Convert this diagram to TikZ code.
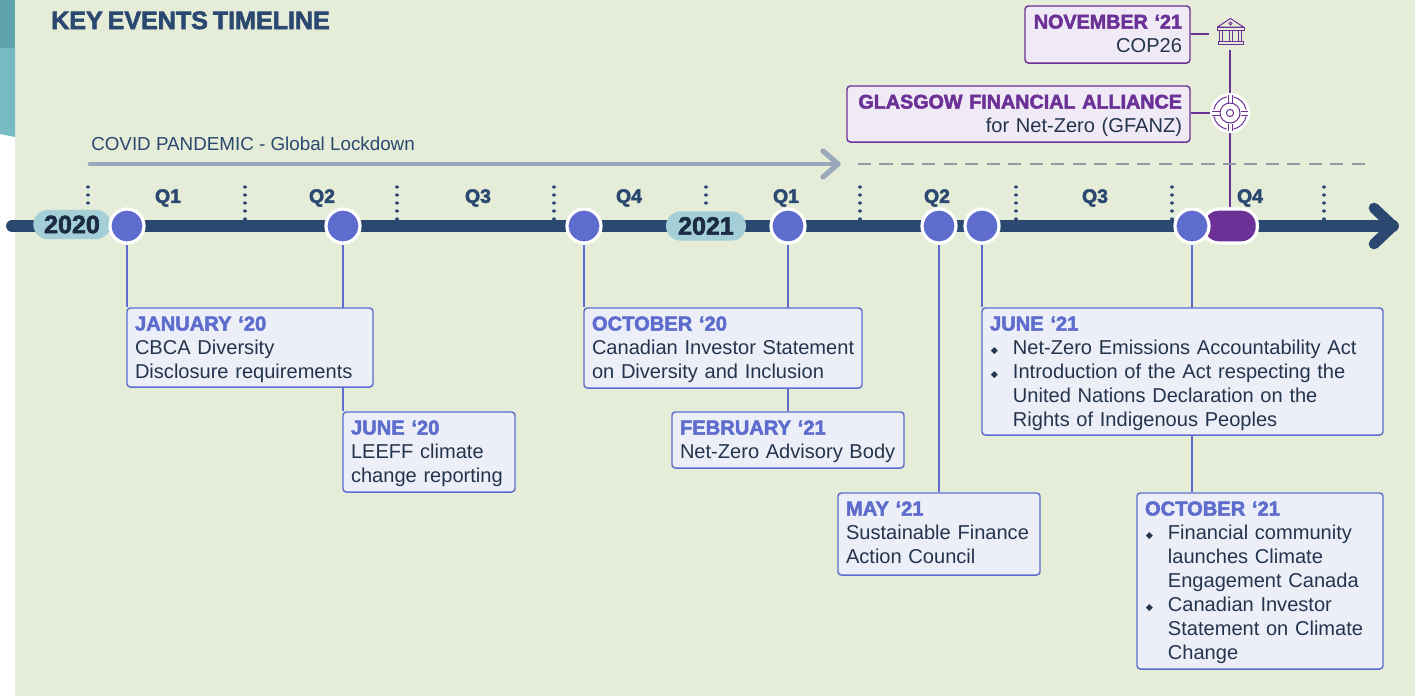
\documentclass[tikz,border=0pt]{standalone}
\usepackage{fontspec}
\setmainfont{Liberation Sans}
\newfontfamily\heavyfont[FakeBold=2.4,WordSpace=0.7]{Liberation Sans Bold}
\newfontfamily\symfont{DejaVu Sans}
\definecolor{navy}{HTML}{2B4870}
\definecolor{peri}{HTML}{5E6DCD}
\definecolor{purp}{HTML}{6B3196}
\definecolor{bgg}{HTML}{E5ECD8}
\definecolor{boxb}{HTML}{ECEFF8}
\definecolor{boxp}{HTML}{EFEAF5}
\definecolor{pill}{HTML}{A5CFD6}
\definecolor{bodyt}{HTML}{24344D}
\definecolor{yeart}{HTML}{1B2A45}
\definecolor{covid}{HTML}{9AA8BB}
\definecolor{dashc}{HTML}{8F9AA3}
\definecolor{tealA}{HTML}{5FA3AD}
\definecolor{tealB}{HTML}{78BAC4}
\pgfdeclarelayer{pagebg}
\pgfdeclarelayer{links}
\pgfsetlayers{pagebg,links,main}
\newcommand\hb[1]{\mbox{\fontsize{15.1}{18}\heavyfont\textcolor{peri}{#1}}}
\newcommand\hp[1]{\makebox[\linewidth][r]{\fontsize{14.8}{18}\heavyfont\textcolor{purp}{#1}}}
\newcommand\blt{\makebox[17.2pt][l]{\hspace{0.6pt}\fontsize{7}{7}\symfont\raisebox{1pt}{◆}}}
\newcommand\ind{\hspace*{17.2pt}}
\tikzset{
 evbox/.style={draw=peri,fill=boxb,line width=1.1pt,rounded corners=2.5pt,inner xsep=6pt,inner ysep=0pt,
   font=\fontsize{15.05}{18}\selectfont,text=bodyt,align=left},
 pbox/.style={evbox,draw=purp,fill=boxp,align=right},
 dot/.style={circle,draw=white,fill=peri,line width=2.4pt,minimum size=25.5pt,inner sep=0pt},
 yearpill/.style={rounded corners=11pt,fill=pill,text=yeart,inner sep=0pt,font=\fontsize{18.8}{18}\heavyfont},
 qlab/.style={text=navy,font=\fontsize{14.6}{18}\heavyfont,inner sep=0pt},
 conn/.style={peri,line width=.9pt},
 pconn/.style={purp,line width=1.1pt},
 tick/.style={navy,line width=2.4pt,line cap=round,dash pattern=on 0.01pt off 5.99pt},
 icon/.style={purp,line width=.75pt},
}
\newcommand\ebox[7][evbox]{\node[#1,minimum width={(#5-#3)*0.75pt},minimum height={(#6-#4)*0.75pt},text width={(#5-#3-16)*0.75pt},text height=16.9pt,text depth={(#6-#4-22.5)*0.75pt}] (#2) at ({(#3+#5)/2},{(#4+#6)/2}) {#7};}
\begin{document}
\begin{tikzpicture}[x=0.75pt,y=-0.75pt]
\useasboundingbox (0,0) rectangle (1415,696);
\begin{pgfonlayer}{pagebg}
\fill[white] (0,0) rectangle (1415,696);
\fill[bgg] (15,0) rectangle (1415,696);
\fill[tealA] (0,0) rectangle (15,48);
\fill[tealB] (0,48) -- (15,48) -- (15,137) -- (0,134) -- cycle;
\end{pgfonlayer}
% title
\node[anchor=base west,inner sep=0pt,text=navy,font=\fontsize{18.8}{20}\heavyfont] (title) at (51,29) {KEY EVENTS TIMELINE};
% covid
\node[anchor=base west,inner sep=0pt,text=navy,font=\fontsize{14.1}{16}\selectfont] (covid) at (91,150) {COVID PANDEMIC - Global Lockdown};
\coordinate (cs) at (90,164); \coordinate (ce) at (838,164);
\draw[covid,line width=3.7pt,line cap=round] (cs) -- (ce);
\draw[covid,line width=3.9pt,line cap=round,line join=round] (823,151) -- (ce) -- (823,177);
\coordinate (ds) at (858,164); \coordinate (de) at (1366,164);
% ticks
\foreach \x/\ya in {88/205,245/219,397/219,554/219,706/210,860/219,1016/219,1172/219,1324/219}
  \draw[tick] (\x,187) -- (\x,\ya);
% quarter labels
\foreach \x/\t [count=\i] in {168/Q1,322/Q2,478/Q3,629/Q4,786/Q1,937/Q2,1095/Q3,1250/Q4}
  \node[qlab] (q\i) at (\x,198) {\t};
% main line
\coordinate (ms) at (12,226); \coordinate (me) at (1393,226);
\draw[navy,line width=8.8pt,line cap=round] (ms) -- (me);
\draw[navy,line width=8pt,line cap=round,line join=round] (1374,208) -- (me) -- (1374,244);
% purple pill
\node[draw=white,fill=purp,line width=2.4pt,rounded corners=12pt,minimum width=41pt,minimum height=25.5pt,inner sep=0pt] (pp) at (1230,226) {};
% year pills
\node[yearpill,minimum width=58pt,minimum height=22pt] (y20) at (72,224.5) {2020};
\node[yearpill,minimum width=60pt,minimum height=22pt] (y21) at (706,226) {2021};
% event dots
\foreach \n/\x in {d1/127,d2/343,d3/584,d4/788,d5/939,d6/982,d7/1192}
  \node[dot] (\n) at (\x,226) {};
% dashed
\draw[dashc,line width=2.1pt,dash pattern=on 9.8pt off 6.3pt] (ds) -- (de);
% boxes
\ebox{b1}{127}{308}{373}{387}{\hb{JANUARY ‘20}\\CBCA Diversity\\\mbox{Disclosure requirements}}
\ebox{b2}{343}{412}{515}{492}{\hb{JUNE ‘20}\\LEEFF climate\\\mbox{change reporting}}
\ebox{b3}{584}{308}{862}{388}{\hb{OCTOBER ‘20}\\\mbox{Canadian Investor Statement}\\\mbox{on Diversity and Inclusion}}
\ebox{b4}{672}{412}{904}{468}{\hb{FEBRUARY ‘21}\\\mbox{Net-Zero Advisory Body}}
\ebox{b5}{838}{493}{1040}{575}{\hb{MAY ‘21}\\\mbox{Sustainable Finance}\\Action Council}
\ebox{b6}{982}{308}{1383}{435}{\hb{JUNE ‘21}\\\mbox{\blt Net-Zero Emissions Accountability Act}\\\mbox{\blt Introduction of the Act respecting the}\\\ind United Nations Declaration on the\\\ind Rights of Indigenous Peoples}
\ebox{b7}{1137}{493}{1383}{669}{\hb{OCTOBER ‘21}\\\blt Financial community\\\ind launches Climate\\\mbox{\ind Engagement Canada}\\\blt Canadian Investor\\\mbox{\ind Statement on Climate}\\\ind Change}
\ebox[pbox]{b8}{1025}{6}{1190}{63}{\hp{NOVEMBER ‘21}\\COP26}
\ebox[pbox]{b9}{847}{86}{1190}{142}{\hp{GLASGOW FINANCIAL ALLIANCE}\\for Net-Zero (GFANZ)}
% icons
\node[circle,fill=white,minimum size=30pt,inner sep=0pt] (target) at (1230,113) {};
\coordinate (bank) at (1209,34);
\coordinate (stemt) at (1230,50);
% connectors
\begin{pgfonlayer}{links}
\draw[conn] (d1) -- (d1 |- b1.north);
\draw[conn] (d2) -- (d2 |- b2.north);
\draw[conn] (d3) -- (d3 |- b3.north);
\draw[conn] (d4) -- (d4 |- b4.north);
\draw[conn] (d5) -- (d5 |- b5.north);
\draw[conn] (d6) -- (d6 |- b6.north);
\draw[conn] (d7) -- (d7 |- b7.north);
\draw[pconn] (stemt) -- (pp.north);
\draw[pconn] (b9.east |- target) -- (target);
\draw[pconn] (b8.east |- bank) -- (bank);
\end{pgfonlayer}
\begin{scope}[shift={(1230,113)},icon]
 \foreach \a in {0,90,180,270} {
  \draw (\a+12:16.5) arc[start angle=\a+12,end angle=\a+78,radius=16.5];
  \begin{scope}[rotate=\a]
   \draw (10.5,-2) -- (18,-2); \draw (10.5,2) -- (18,2);
  \end{scope}
 }
 \draw (0,0) circle[radius=10];
 \draw (0,0) circle[radius=3.6];
\end{scope}
\begin{scope}[icon]
 \draw[line join=round] (1217.5,27) -- (1230.5,18.5) -- (1243.5,27) -- cycle;
 \draw (1230.5,23.5) circle[radius=1.5];
 \draw (1217,27) rectangle (1244,30);
 \foreach \x in {1221,1230.5,1240} \draw (\x-1.5,30) rectangle (\x+1.5,41);
 \draw (1218,41) rectangle (1243,44.5);
\end{scope}
\end{tikzpicture}
\end{document}
